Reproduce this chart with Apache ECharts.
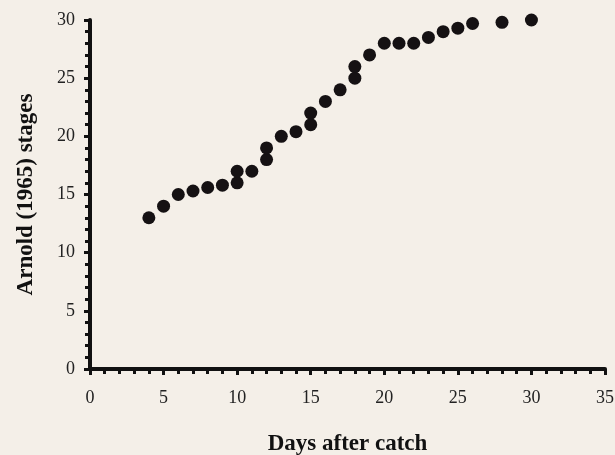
<!DOCTYPE html>
<html>
<head>
<meta charset="utf-8">
<script src="https://cdn.jsdelivr.net/npm/echarts@6/dist/echarts.min.js"></script>
<style>
  html, body { margin: 0; padding: 0; background: #f4efe8; }
  #chart { width: 615px; height: 455px; }
</style>
</head>
<body>
<div id="chart"></div>
<script>
// days after catch vs Arnold (1965) stage
const days = [4, 5, 6, 7, 8, 9, 10, 10, 11, 12, 12, 13, 14, 15, 15, 16, 17, 18, 18, 19, 20, 21, 22, 23, 24, 25, 26, 28, 30]
const stages = [13, 14, 15, 15.3, 15.6, 15.8, 16, 17, 17, 18, 19, 20, 20.4, 21, 22, 23, 24, 25, 26, 27, 28, 28, 28, 28.5, 29, 29.3, 29.7, 29.8, 30]
const xTicks = [0, 35, 5]   // min, max, interval
const yTicks = [0, 30, 5]

const points = days.map((d, i) => [d, stages[i]])

const chart = echarts.init(document.getElementById('chart'))

const axisFont = { fontFamily: 'Liberation Serif', fontSize: 18, color: '#222' }
const titleFont = { fontFamily: 'Liberation Serif', fontSize: 23, fontWeight: 'bold', color: '#111' }

chart.setOption({
  backgroundColor: '#f4efe8',
  animation: false,
  grid: {
    left: 90,
    right: 10,
    top: 20,
    bottom: 86,
    outerBoundsMode: 'none'
  },
  xAxis: {
    type: 'value',
    min: xTicks[0],
    max: xTicks[1],
    interval: xTicks[2],
    name: 'Days after catch',
    nameLocation: 'middle',
    nameGap: 64,
    nameTextStyle: titleFont,
    axisLine: { lineStyle: { color: '#111', width: 4 } },
    axisTick: { length: 6, lineStyle: { color: '#111', width: 3 } },
    minorTick: { show: true, splitNumber: 5, length: 5, lineStyle: { color: '#111', width: 3 } },
    axisLabel: Object.assign({ margin: 20 }, axisFont),
    splitLine: { show: false }
  },
  yAxis: {
    type: 'value',
    min: yTicks[0],
    max: yTicks[1],
    interval: yTicks[2],
    name: 'Arnold (1965) stages',
    nameLocation: 'middle',
    nameGap: 52,
    nameTextStyle: titleFont,
    axisLine: { show: true, lineStyle: { color: '#111', width: 4 } },
    axisTick: { show: true, length: 6, lineStyle: { color: '#111', width: 3 } },
    minorTick: { show: true, splitNumber: 5, length: 5, lineStyle: { color: '#111', width: 3 } },
    axisLabel: Object.assign({ margin: 15 }, axisFont),
    splitLine: { show: false }
  },
  series: [{
    type: 'scatter',
    data: points,
    symbolSize: 13,
    itemStyle: { color: '#151113', opacity: 1 }
  }]
})
</script>
</body>
</html>
